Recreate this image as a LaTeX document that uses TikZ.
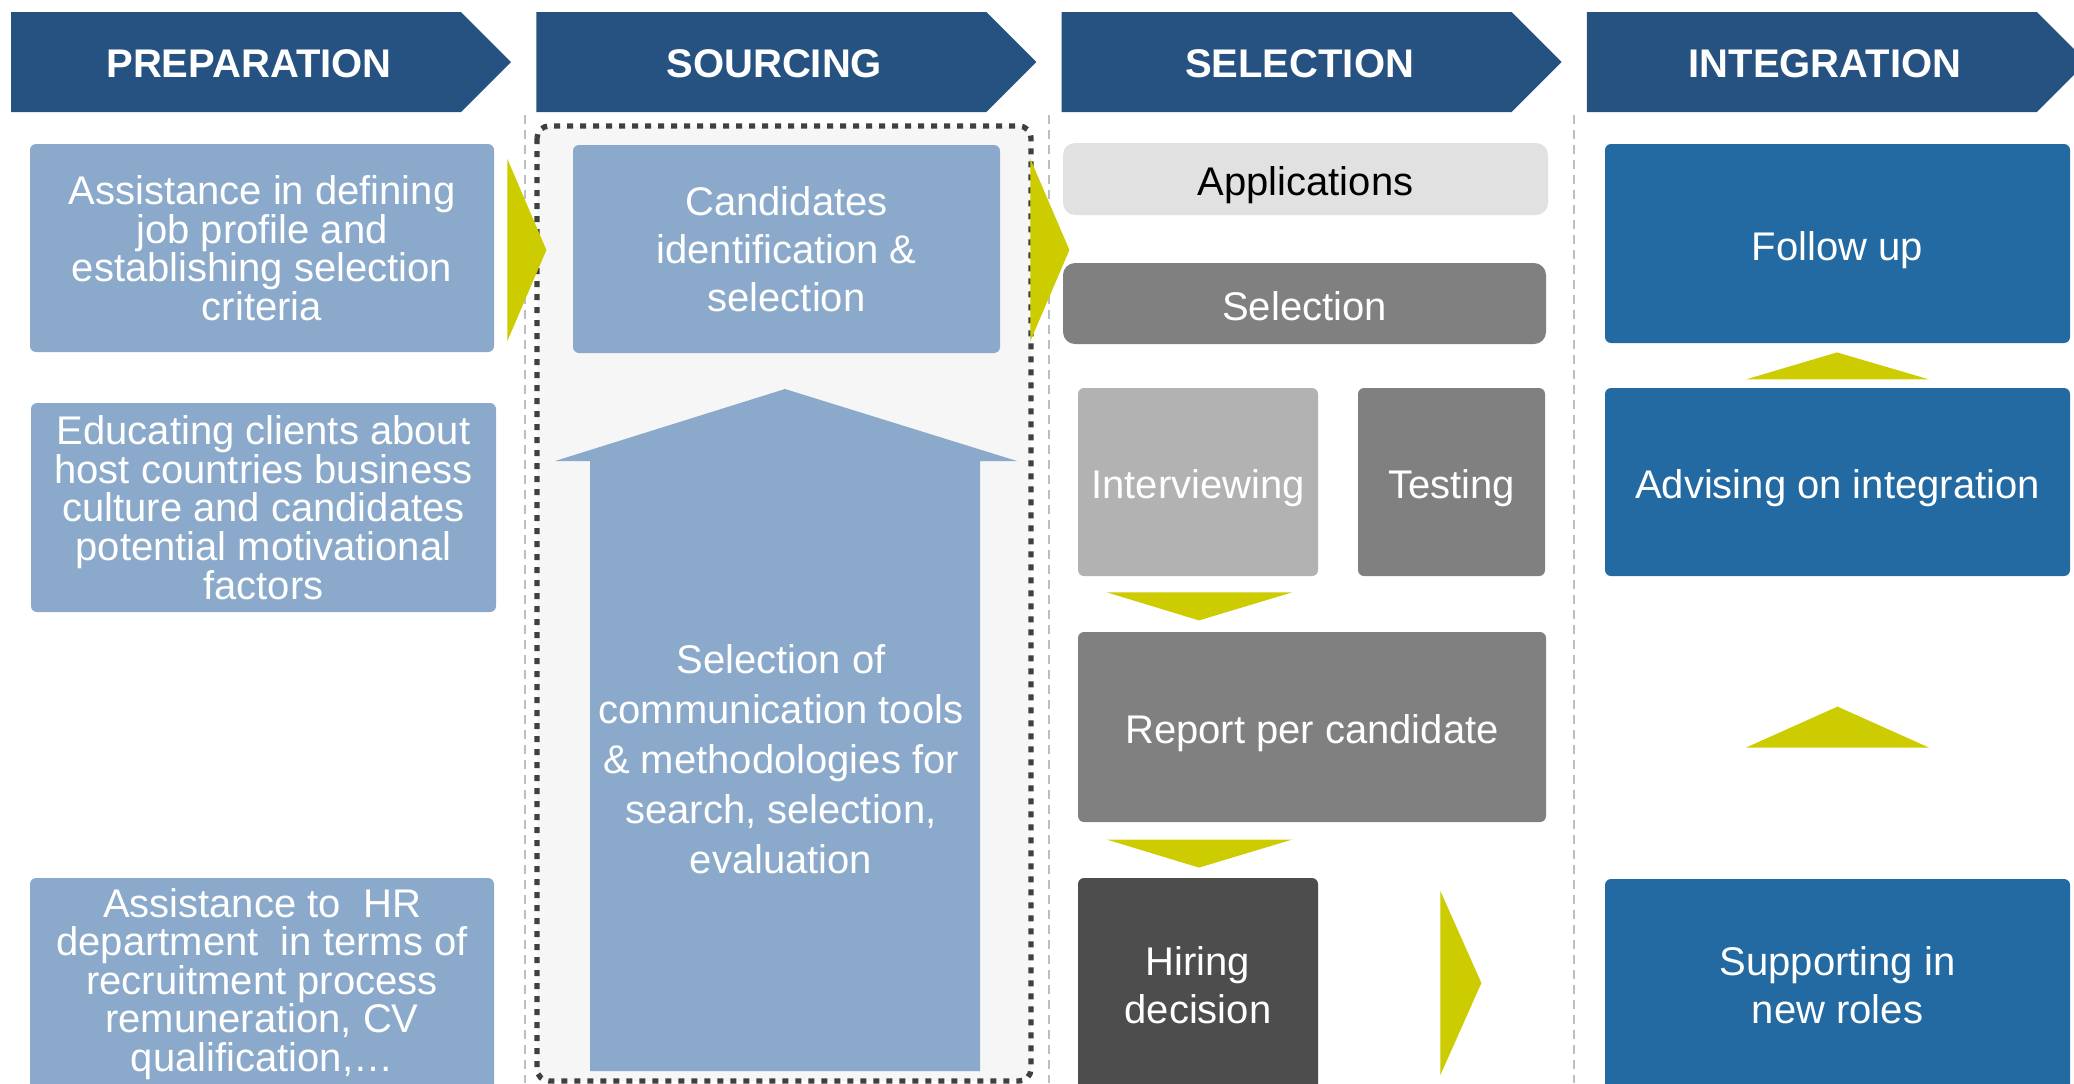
\documentclass[tikz,border=0pt]{standalone}
\usepackage{fontspec}
\setmainfont{Liberation Sans}
\usepackage{tikz}
\usetikzlibrary{calc}
\definecolor{headblue}{RGB}{37,82,129}
\definecolor{paleblue}{RGB}{139,170,203}
\definecolor{deepblue}{RGB}{36,106,162}
\definecolor{limeyellow}{RGB}{204,204,0}
\definecolor{lightgrey}{RGB}{225,225,225}
\definecolor{midgrey}{RGB}{128,128,128}
\definecolor{softgrey}{RGB}{178,178,178}
\definecolor{darkgrey}{RGB}{77,77,77}
\definecolor{panelgrey}{RGB}{246,246,246}
\definecolor{dotgrey}{RGB}{64,64,64}
\definecolor{sepgrey}{RGB}{190,190,190}
\newdimen\pxu \pxu=0.5pt

\tikzset{
  card/.style={rounded corners=3pt, align=center, inner sep=0pt, text=white, font=\fontsize{20}{24}\selectfont},
  tight/.style={font=\fontsize{20}{19.3}\selectfont},
  oneline/.style={text height=21pt, text depth=4.2pt},
  pointer/.style={fill=limeyellow},
  headtxt/.style={text=white, inner sep=0pt, font=\fontsize{20}{24}\selectfont\bfseries},
}

\begin{document}
\begin{tikzpicture}[x=0.5pt, y=-0.5pt]
\path[use as bounding box, clip] (0,0) rectangle (2074,1083);
\fill[white] (0,0) rectangle (2074,1083);

% Column separators
\foreach \x in {525, 1049, 1574}
  \draw[sepgrey, line width=1pt, dash pattern=on 4.5pt off 3pt] (\x,115) -- (\x,1083);

% Sourcing panel
\draw[dotgrey, fill=panelgrey, line width=2.7pt, dash pattern=on 3pt off 3.5pt, rounded corners=6pt] (537,126) rectangle (1031,1081);

% Phase chevrons
\foreach \i/\lbl in {0/PREPARATION, 1/SOURCING, 2/SELECTION, 3/INTEGRATION} {
  \fill[headblue] ({11+525.3*\i},12) -- ++(450,0) -- ++(50,50) -- ++(-50,50) -- ++(-450,0) -- cycle;
  \node[headtxt] (head\i) at ({249+525.3*\i},64) {\lbl};
}

% Preparation
\node[card, tight, fill=paleblue, minimum width=464\pxu, minimum height=208\pxu] (prepA) at (262,248) {Assistance in defining\\job profile and\\establishing selection\\criteria};
\node[card, tight, fill=paleblue, minimum width=465\pxu, minimum height=209\pxu] (prepB) at (263.5,507.5) {Educating clients about\\host countries business\\culture and candidates\\potential motivational\\factors};
\node[card, tight, fill=paleblue, minimum width=464\pxu, minimum height=212\pxu] (prepC) at (262,984) {Assistance to \ HR\\department \ in terms of\\recruitment process\\remuneration, CV\\qualification,…};

% Sourcing
\node[card, fill=paleblue, minimum width=427\pxu, minimum height=208\pxu] (cand) at (786.5,249) {Candidates\\identification \&\\selection};
\fill[paleblue] (785,389) -- (1017,461) -- (980,461) -- (980,1071) -- (590,1071) -- (590,461) -- (555,461) -- cycle;
\node[card, font=\fontsize{20}{25}\selectfont] (tools) at (781,759) {Selection of\\communication tools\\\& methodologies for\\search, selection,\\evaluation};

% Selection
\node[card, oneline, rounded corners=6pt, fill=lightgrey, text=black, minimum width=485\pxu, minimum height=72\pxu] (appl) at (1305.5,179) {Applications};
\node[card, oneline, rounded corners=6pt, fill=midgrey, minimum width=483\pxu, minimum height=81\pxu] (sel) at (1304.5,303.5) {Selection};
\node[card, oneline, fill=softgrey, minimum width=240\pxu, minimum height=188\pxu] (interv) at (1198,482) {Interviewing};
\node[card, oneline, fill=midgrey, minimum width=187\pxu, minimum height=188\pxu] (testing) at (1451.5,482) {Testing};
\node[card, oneline, fill=midgrey, minimum width=468\pxu, minimum height=190\pxu] (report) at (1312,727) {Report per candidate};
\node[card, fill=darkgrey, minimum width=240\pxu, minimum height=214\pxu] (hiring) at (1198,985) {Hiring\\decision};

% Integration
\node[card, oneline, fill=deepblue, minimum width=465\pxu, minimum height=199\pxu] (follow) at (1837.5,243.5) {Follow up};
\node[card, oneline, fill=deepblue, minimum width=465\pxu, minimum height=188\pxu] (advise) at (1837.5,482) {Advising on integration};
\node[card, fill=deepblue, minimum width=465\pxu, minimum height=212\pxu] (support) at (1837.5,985) {Supporting in\\new roles};

% Yellow pointers
\fill[pointer] ($(prepA.east)+(13,-89)$) -- ($(prepA.east)+(52,2)$) -- ($(prepA.east)+(13,93)$) -- cycle;
\fill[pointer] ($(cand.east)+(30,-90)$) -- ($(cand.east)+(69,1)$) -- ($(cand.east)+(30,92)$) -- cycle;
\fill[pointer] ($(interv.south)+(-91,16)$) -- ($(interv.south)+(94,16)$) -- ($(interv.south)+(1,44)$) -- cycle;
\fill[pointer] ($(hiring.north)+(-91,-38)$) -- ($(hiring.north)+(94,-38)$) -- ($(hiring.north)+(1,-10)$) -- cycle;
\fill[pointer] ($(hiring.east)+(122,-94)$) -- ($(hiring.east)+(163,-2)$) -- ($(hiring.east)+(122,90)$) -- cycle;
\fill[pointer] ($(follow.south)+(-91.5,36)$) -- ($(follow.south)+(91.5,36)$) -- ($(follow.south)+(-0.5,9)$) -- cycle;
\fill[pointer] ($(support.north)+(-91.5,-131)$) -- ($(support.north)+(91.5,-131)$) -- ($(support.north)+(0,-172)$) -- cycle;

\end{tikzpicture}
\end{document}
